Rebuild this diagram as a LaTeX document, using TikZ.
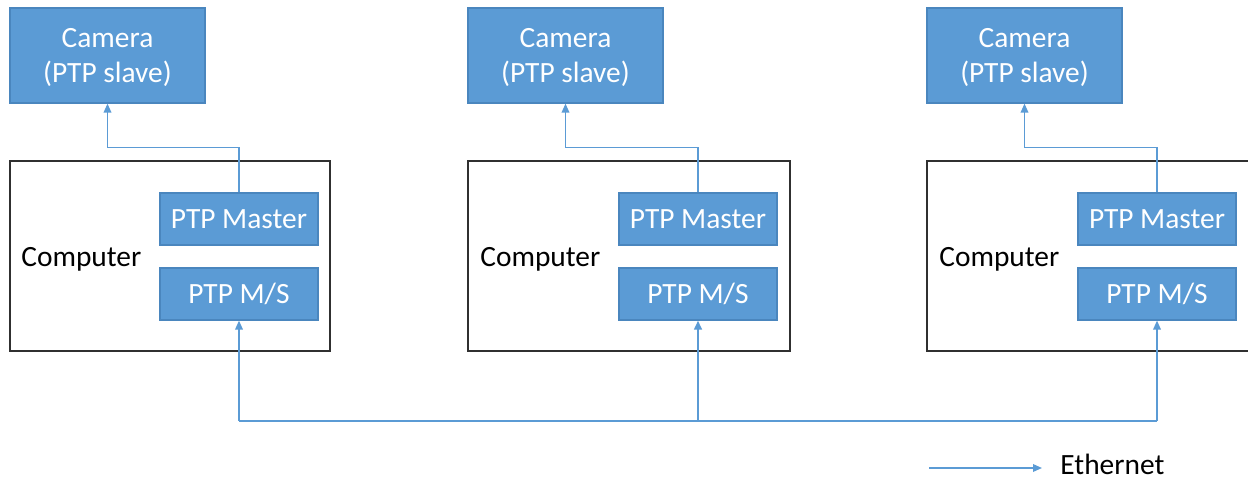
\documentclass[tikz,border=0pt]{standalone}
\usepackage{fontspec}
\setmainfont{Carlito}
\usetikzlibrary{arrows.meta}
\definecolor{ptpblue}{HTML}{5B9BD5}
\definecolor{ptpedge}{HTML}{4A86BE}
\definecolor{hostedge}{HTML}{303030}
% two centred lines, nudged down while keeping the box's extents
\newcommand{\twolines}[2]{\raisebox{-1.5pt}[\height][\depth]{\begin{tabular}{@{}c@{}}#1\\#2\end{tabular}}}
\tikzset{
  camerabox/.style={draw=ptpedge, line width=0.6pt, fill=ptpblue, text=white,
    minimum width=97.5pt, minimum height=47.5pt, inner sep=0pt,
    font=\fontsize{14.7}{17.5}\selectfont},
  portbox/.style={draw=ptpedge, line width=0.6pt, fill=ptpblue, text=white,
    minimum width=79pt, minimum height=26pt, inner sep=0pt,
    font=\fontsize{14.7}{17.5}\selectfont},
  hostbox/.style={draw=hostedge, line width=0.7pt, fill=white,
    minimum height=95pt, inner sep=0pt},
  hostlabel/.style={anchor=west, inner sep=0pt, text=black,
    font=\fontsize{14.7}{17.5}\selectfont},
  link/.style={draw=ptpblue, line width=0.75pt,
    -{Triangle[length=4.5pt,width=3.8pt]}},
  wire/.style={draw=ptpblue, line width=0.75pt},
}
\begin{document}
\begin{tikzpicture}[x=0.5pt,y=-0.5pt]
\useasboundingbox (0,0) rectangle (1248,480);
\clip (0,0) rectangle (1248,480);

% cameras
\node[camerabox] (cam1) at (107.5,55.5) {\twolines{Camera}{(PTP slave)}};
\node[camerabox] (cam2) at (565.5,55.5) {\twolines{Camera}{(PTP slave)}};
\node[camerabox] (cam3) at (1024.5,55.5) {\twolines{Camera}{(PTP slave)}};

% computers
\node[hostbox, minimum width=160pt] (pc1) at (170,256) {};
\node[hostbox, minimum width=161pt] (pc2) at (629,256) {};
\node[hostbox, minimum width=162pt] (pc3) at (1089,256) {};
\node[hostlabel] (lab1) at (21,259) {Computer};
\node[hostlabel] (lab2) at (480,259) {Computer};
\node[hostlabel] (lab3) at (939,259) {Computer};

% PTP ports
\node[portbox] (ma1) at (239,219) {PTP Master};
\node[portbox] (ms1) at (239,294) {PTP M/S};
\node[portbox] (ma2) at (698,219) {PTP Master};
\node[portbox] (ms2) at (698,294) {PTP M/S};
\node[portbox] (ma3) at (1157,219) {PTP Master};
\node[portbox] (ms3) at (1157,294) {PTP M/S};

% master to camera
\draw[link] (ma1.north) -- ++(0,-45) -| (cam1.south);
\draw[link] (ma2.north) -- ++(0,-45) -| (cam2.south);
\draw[link] (ma3.north) -- ++(0,-45) -| (cam3.south);

% ethernet bus
\coordinate (busy) at (0,421);
\draw[wire] (ms1.south |- busy) -- (ms3.south |- busy);
\draw[link] (ms1.south |- busy) -- (ms1.south);
\draw[link, line width=1.1pt] (ms2.south |- busy) -- (ms2.south);
\draw[link] (ms3.south |- busy) -- (ms3.south);

% legend
\coordinate (lgA) at (929,468);
\coordinate (lgB) at (1042,468);
\draw[link] (lgA) -- (lgB);
\node[hostlabel, anchor=base west, text depth=0pt] (eth) at (1060,475) {Ethernet};
\end{tikzpicture}
\end{document}
